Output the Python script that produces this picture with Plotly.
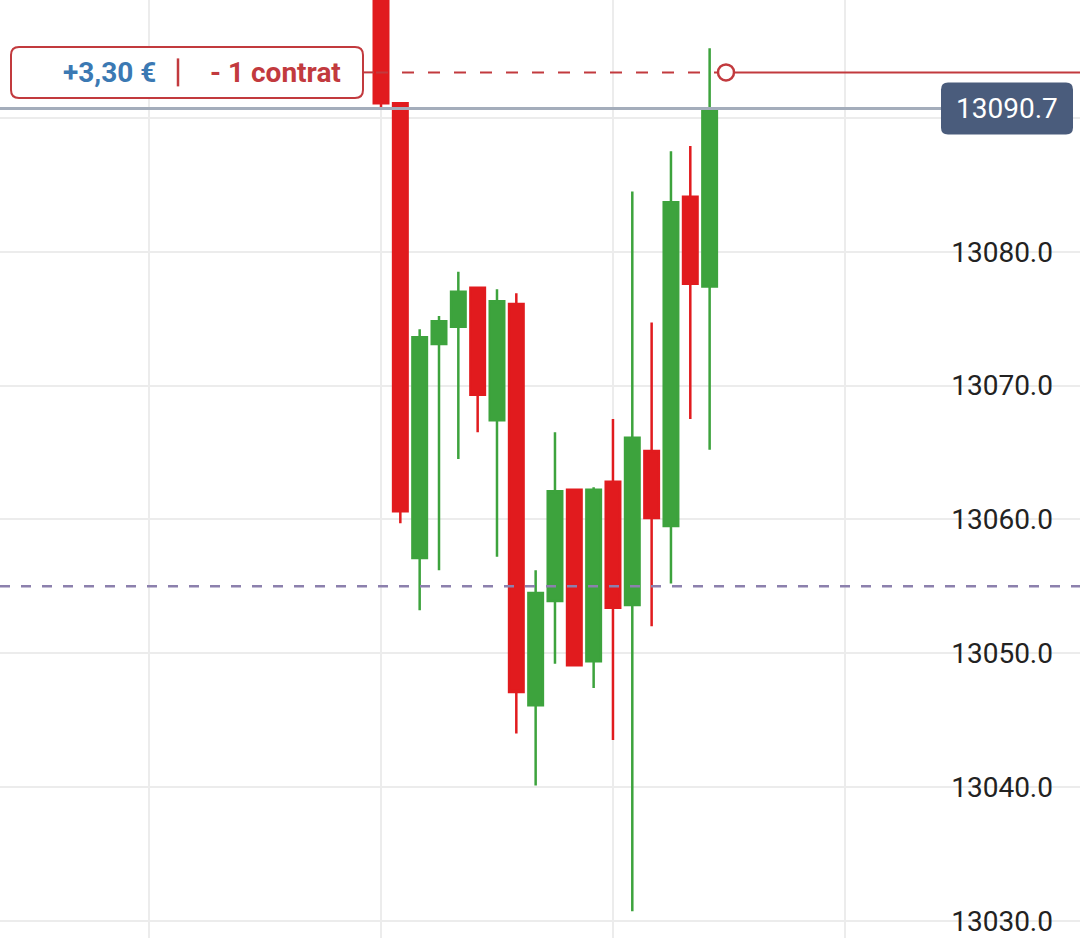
import plotly.graph_objects as go

W, H = 1080, 938

# ---- data ----
candle_index = list(range(18))
opens  = [13105.0, 13091.1, 13057.1, 13073.1, 13074.4, 13077.3, 13067.4, 13076.1, 13046.1,
          13053.9, 13062.2, 13049.4, 13062.8, 13053.6, 13065.1, 13059.5, 13084.1, 13077.4]
highs  = [13106.0, 13091.1, 13074.2, 13075.2, 13078.5, 13077.3, 13077.2, 13076.9, 13056.2,
          13066.5, 13062.2, 13062.4, 13067.5, 13084.5, 13074.7, 13087.5, 13087.9, 13095.2]
lows   = [13090.6, 13059.7, 13053.2, 13056.2, 13064.5, 13066.5, 13057.2, 13044.0, 13040.1,
          13049.2, 13049.1, 13047.4, 13043.5, 13030.7, 13052.0, 13055.2, 13067.5, 13065.2]
closes = [13091.1, 13060.6, 13073.6, 13074.8, 13077.0, 13069.3, 13076.3, 13047.1, 13054.5,
          13062.1, 13049.1, 13062.2, 13053.4, 13066.1, 13060.1, 13083.7, 13077.6, 13090.7]

price_ticks = [13030, 13040, 13050, 13060, 13070, 13080, 13090]
current_price = 13090.7
current_label = "13090.7"
entry_price = 13093.4
pnl_text = "+3,30 €"
qty_text = "- 1 contrat"
purple_level = 13055.0

# tick labels: the one hidden behind the current-price box is left blank
tick_text = ["" if abs(v - current_price) < 5 else f"{v:.1f}" for v in price_ticks]

# ---- styles ----
RED = "#e11b1e"
GREEN = "#3da33d"
POS_RED = "#c23a3e"
PNL_BLUE = "#3b79b3"
GRID = "#ececec"
FONT = "Roboto"

fig = go.Figure()
fig.add_trace(go.Candlestick(
    x=candle_index, open=opens, high=highs, low=lows, close=closes,
    increasing=dict(line=dict(color=GREEN, width=2.5), fillcolor=GREEN),
    decreasing=dict(line=dict(color=RED, width=2.5), fillcolor=RED),
    whiskerwidth=0, showlegend=False, hoverinfo="skip",
))


def rrect(x0, x1, y0, y1, r):
    return (f"M{x0 + r},{y0} L{x1 - r},{y0} Q{x1},{y0} {x1},{y0 + r} "
            f"L{x1},{y1 - r} Q{x1},{y1} {x1 - r},{y1} L{x0 + r},{y1} "
            f"Q{x0},{y1} {x0},{y1 - r} L{x0},{y0 + r} Q{x0},{y0} {x0 + r},{y0} Z")


shapes = []
# purple dashed level
shapes.append(dict(type="line", xref="paper", yref="y", x0=0, x1=1,
                   y0=purple_level, y1=purple_level,
                   line=dict(color="#8c80ad", width=2.5, dash="10px,11px")))
# current price line
shapes.append(dict(type="line", xref="paper", yref="y", x0=0, x1=941 / W,
                   y0=current_price, y1=current_price,
                   line=dict(color="#a4adbb", width=3)))
# position line pieces
shapes.append(dict(type="line", xref="paper", yref="y", x0=363 / W, x1=374 / W,
                   y0=entry_price, y1=entry_price, line=dict(color=POS_RED, width=2)))
shapes.append(dict(type="line", xref="paper", yref="y", x0=376 / W, x1=718 / W,
                   y0=entry_price, y1=entry_price,
                   line=dict(color=POS_RED, width=2, dash="12px,14px")))
shapes.append(dict(type="line", xref="paper", yref="y", x0=734 / W, x1=1,
                   y0=entry_price, y1=entry_price, line=dict(color=POS_RED, width=2)))
shapes.append(dict(type="circle", xref="paper", yref="y",
                   xsizemode="pixel", xanchor=726 / W, x0=-8, x1=8,
                   ysizemode="pixel", yanchor=entry_price, y0=-8, y1=8,
                   line=dict(color=POS_RED, width=2.5), fillcolor="white"))
# position label box
shapes.append(dict(type="path", xref="paper", yref="y",
                   xsizemode="pixel", xanchor=0, ysizemode="pixel", yanchor=entry_price,
                   path=rrect(11, 363, -25.5, 25.5, 8),
                   line=dict(color=POS_RED, width=2), fillcolor="white"))
shapes.append(dict(type="line", xref="paper", yref="y",
                   xsizemode="pixel", xanchor=0, x0=178, x1=178,
                   ysizemode="pixel", yanchor=entry_price, y0=-14, y1=14,
                   line=dict(color=POS_RED, width=2.5)))
# current price box
shapes.append(dict(type="path", xref="paper", yref="y",
                   xsizemode="pixel", xanchor=0, ysizemode="pixel", yanchor=current_price,
                   path=rrect(941, 1073, -26, 26, 7),
                   line=dict(width=0), fillcolor="#4a5c7c"))

annotations = [
    dict(text=pnl_text, xref="paper", yref="y", x=109 / W, y=entry_price,
         xanchor="center", yanchor="middle", showarrow=False,
         font=dict(family=FONT, size=28, color=PNL_BLUE, weight="bold")),
    dict(text=qty_text, xref="paper", yref="y", x=275 / W, y=entry_price,
         xanchor="center", yanchor="middle", showarrow=False,
         font=dict(family=FONT, size=28, color=POS_RED, weight="bold")),
    dict(text=current_label, xref="paper", yref="y", x=1007 / W, y=current_price,
         xanchor="center", yanchor="middle", showarrow=False,
         font=dict(family=FONT, size=28, color="white")),
]

fig.update_layout(
    width=W, height=H,
    margin=dict(l=0, r=0, t=0, b=0),
    paper_bgcolor="white", plot_bgcolor="white",
    showlegend=False, boxgap=0.25, boxgroupgap=0,
    shapes=shapes, annotations=annotations,
    xaxis=dict(range=[-19.71, 36.16], tick0=0, dtick=12, showgrid=True,
               gridcolor=GRID, gridwidth=2, showticklabels=False, zeroline=False,
               showline=False, ticks="", rangeslider=dict(visible=False),
               fixedrange=True),
    yaxis=dict(range=[13028.71, 13098.81], side="right", tickvals=price_ticks,
               ticktext=tick_text, ticklabelposition="inside", ticklabelstandoff=24,
               tickfont=dict(family=FONT, size=28, color="#222222"),
               showgrid=True, gridcolor=GRID, gridwidth=2, zeroline=False,
               showline=False, ticks="", fixedrange=True),
)

fig.write_html("out.html", config={"displayModeBar": False},
               post_script="document.body.style.margin='0px';document.body.style.padding='0px';")
